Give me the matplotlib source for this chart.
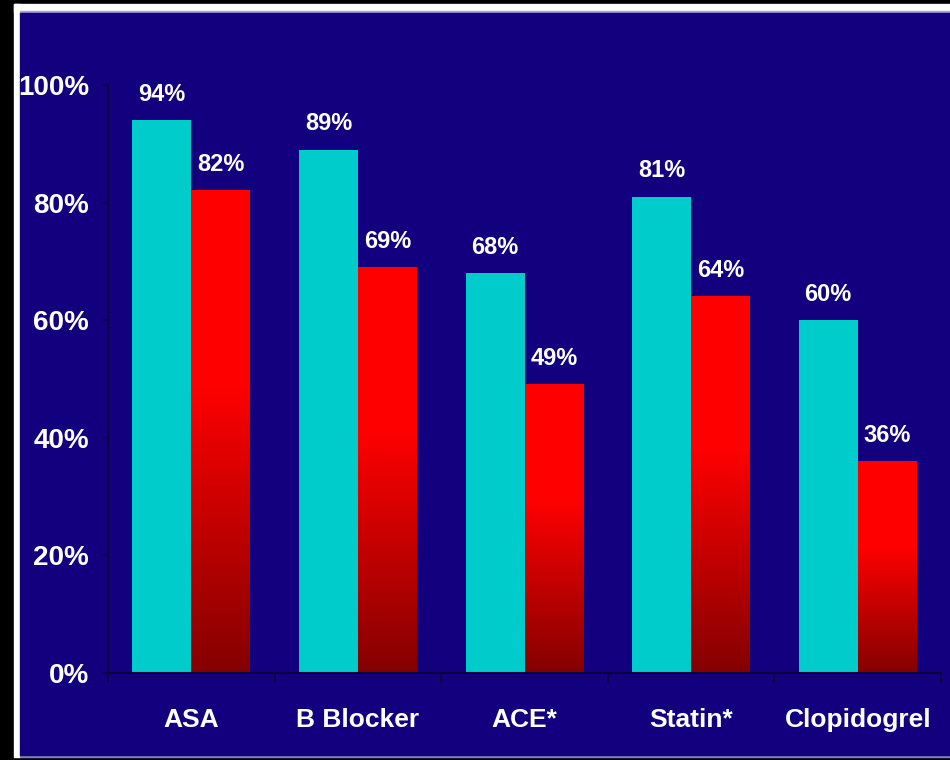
import numpy as np
import matplotlib.pyplot as plt
from matplotlib.patches import Rectangle
from matplotlib.colors import LinearSegmentedColormap

# данные
categories = ['ASA', 'B Blocker', 'ACE*', 'Statin*', 'Clopidogrel']
cyan_values = [94, 89, 68, 81, 60]
red_values = [82, 69, 49, 64, 36]
y_ticks = [0, 20, 40, 60, 80, 100]
y_labels = ['0%', '20%', '40%', '60%', '80%', '100%']

navy = '#12007f'
cyan = '#00cccc'
axis_col = '#0a0040'
font = ['Liberation Sans', 'DejaVu Sans']

W, H = 950, 760
fig = plt.figure(figsize=(9.5, 7.6), dpi=100, facecolor='black')


def bg_rect(x0, y0, w, h, color):
    # прямоугольник фона в пикселях (от левого верхнего угла)
    fig.patches.append(Rectangle((x0 / W, 1 - (y0 + h) / H), w / W, h / H,
                                 transform=fig.transFigure, color=color,
                                 zorder=-5))


# фон слайда: белая рамка, затем синий прямоугольник
bg_rect(14, 4, 936, 8, 'white')
bg_rect(14, 4, 6, 753, 'white')
bg_rect(20, 11, 930, 2, '#a8a0e0')
bg_rect(20, 755, 930, 2, '#8080c8')
bg_rect(20, 13, 930, 742, navy)

ax = fig.add_axes([108 / W, 1 - 673 / H, 833 / W, 588 / H])
ax.set_facecolor('none')

x = np.arange(len(categories))
bw = 0.354
ax.bar(x - bw / 2, cyan_values, width=bw, color=cyan, zorder=2)
red_bars = ax.bar(x + bw / 2, red_values, width=bw, color='none', zorder=2)

# градиент красных столбцов
cmap = LinearSegmentedColormap.from_list(
    'rd', [(0, '#840000'), (0.6, '#ff0000'), (1, '#ff0000')])
grad = np.linspace(0, 1, 256).reshape(-1, 1)
for b in red_bars:
    x0, w, h = b.get_x(), b.get_width(), b.get_height()
    ax.imshow(grad, cmap=cmap, origin='lower', aspect='auto',
              extent=(x0, x0 + w, 0, h), zorder=2)

for i in range(len(categories)):
    ax.annotate(f'{cyan_values[i]}%', (x[i] - bw / 2, cyan_values[i]),
                xytext=(0, 14), textcoords='offset points', ha='center',
                va='baseline', color='white', fontsize=17, fontweight='bold',
                family=font)
    ax.annotate(f'{red_values[i]}%', (x[i] + bw / 2, red_values[i]),
                xytext=(0, 14), textcoords='offset points', ha='center',
                va='baseline', color='white', fontsize=17, fontweight='bold',
                family=font)

ax.set_xlim(-0.5, len(categories) - 0.5)
ax.set_ylim(0, 100)
ax.set_yticks(y_ticks)
ax.set_yticklabels(y_labels)
ax.set_xticks(x)
ax.set_xticklabels(categories)
ax.set_xticks(np.arange(len(categories) + 1) - 0.5, minor=True)

for s in ['top', 'right']:
    ax.spines[s].set_visible(False)
for s in ['left', 'bottom']:
    ax.spines[s].set_color(axis_col)
    ax.spines[s].set_linewidth(1.5)

ax.tick_params(axis='y', length=3.5, width=1.2, color=axis_col, pad=10,
               labelsize=20, labelcolor='white')
ax.tick_params(axis='x', which='major', length=0, pad=25,
               labelsize=19, labelcolor='white')
ax.tick_params(axis='x', which='minor', length=7, width=1.2, color=axis_col)
for lab in ax.get_xticklabels() + ax.get_yticklabels():
    lab.set_fontweight('bold')
    lab.set_family(font)

fig.savefig('out.png', dpi=100, facecolor='black')
